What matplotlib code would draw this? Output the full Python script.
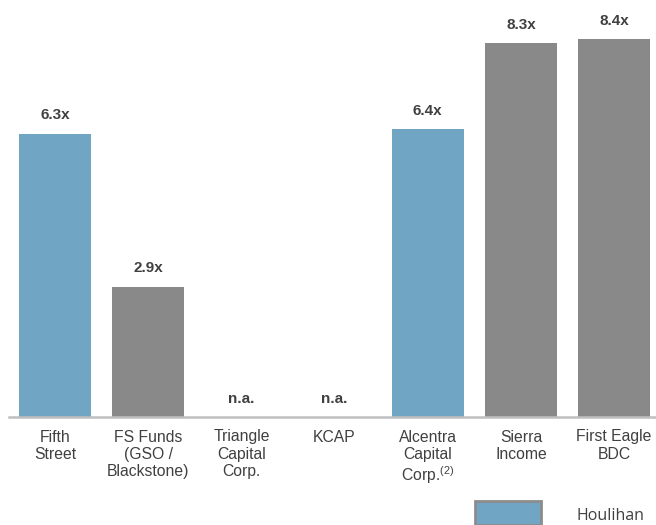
import matplotlib
matplotlib.use("Agg")
import matplotlib.pyplot as plt
from matplotlib.patches import Rectangle

plt.rcParams['font.family'] = ['Liberation Sans', 'DejaVu Sans']
plt.rcParams['mathtext.fontset'] = 'custom'
plt.rcParams['mathtext.rm'] = 'Liberation Sans'

categories = ["Fifth\nStreet", "FS Funds\n(GSO /\nBlackstone)", "Triangle\nCapital\nCorp.",
              "KCAP", "Alcentra\nCapital\nCorp.$^{\\mathrm{(2)}}$", "Sierra\nIncome", "First Eagle\nBDC"]
values = [6.3, 2.9, None, None, 6.4, 8.3, 8.4]
labels = ["6.3x", "2.9x", "n.a.", "n.a.", "6.4x", "8.3x", "8.4x"]
houlihan = [True, False, False, False, True, False, False]

BLUE = "#71a5c4"
GRAY = "#898989"
TXT = "#404040"

fig = plt.figure(figsize=(6.56, 5.25), dpi=100)
W, H = 656, 525
ax = fig.add_axes([9 / W, (H - 417) / H, (656 - 9) / W, 417 / H])

x = list(range(len(categories)))
for i, (v, h) in enumerate(zip(values, houlihan)):
    if v is None:
        continue
    ax.bar(i, v, width=0.773, color=BLUE if h else GRAY, zorder=2)

for i, (v, lab) in enumerate(zip(values, labels)):
    y = v if v is not None else 0
    ax.annotate(lab, (i, y), xytext=(0, 8), textcoords="offset points",
                ha="center", va="bottom", fontsize=11, fontweight="bold", color=TXT)

ax.set_xlim(-0.494, 6.45)
ax.set_ylim(0, 417 / 45)
ax.set_xticks(x)
ax.set_xticklabels(categories, fontsize=11.3, color=TXT, linespacing=1.17)
ax.tick_params(axis="x", length=0, pad=9)
ax.set_yticks([])
for s in ["top", "right", "left"]:
    ax.spines[s].set_visible(False)
ax.spines["bottom"].set_color("#bfbfbf")
ax.spines["bottom"].set_linewidth(1.8)
ax.spines["bottom"].set_zorder(3)

# partial legend at bottom
fig.patches.append(Rectangle((475 / W, 0), 66 / W, 24 / H, transform=fig.transFigure,
                             facecolor=BLUE, edgecolor="#8c8c8c", linewidth=2))
fig.text(577 / W, 9 / H, "Houlihan", fontsize=11.5, color="#404040",
         family=["Open Sans", "DejaVu Sans"], va="center", ha="left")

fig.savefig("out.png", dpi=100)
